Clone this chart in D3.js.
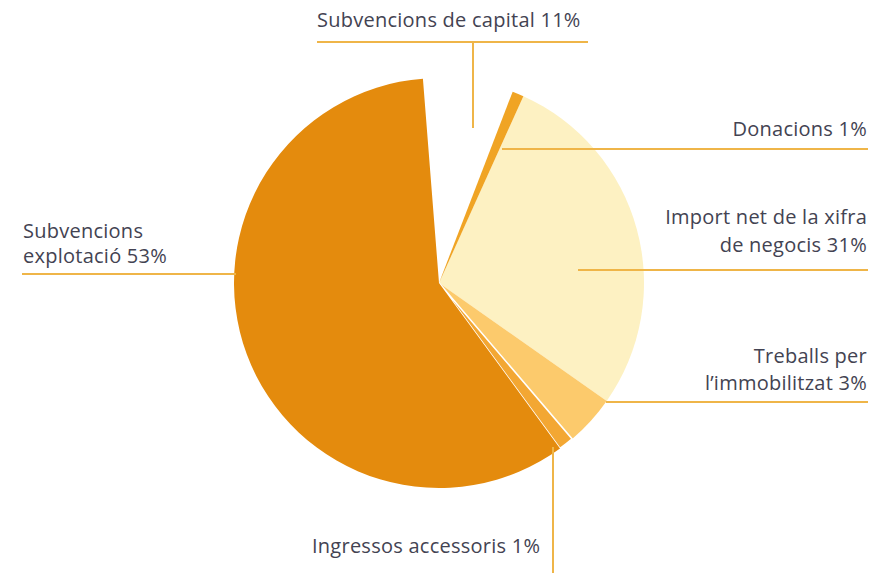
<!DOCTYPE html>
<html>
<head>
<meta charset="utf-8">
<script src="https://cdn.jsdelivr.net/npm/d3@7"></script>
<style>
  html, body { margin: 0; padding: 0; background: #ffffff; }
  svg { display: block; }
  text { font-family: "Open Sans", "Noto Sans", sans-serif; fill: #434352; letter-spacing: 0.25px; }
</style>
</head>
<body>
<svg id="chart" width="871" height="573"></svg>
<script>
// Categories in drawing order (clockwise, starting at the empty wedge)
const categories = [
  "Subvencions de capital",
  "Donacions",
  "Import net de la xifra de negocis",
  "Treballs per l\u2019immobilitzat",
  "Ingressos accessoris",
  "Subvencions explotació"
];
// Printed percentages (as labelled)
const labelPercents = [11, 1, 31, 3, 1, 53];
// Slice shares as drawn in the picture (percent of the circle)
const sliceShares = [7.1, 0.9, 28.0, 4.0, 1.2, 58.8];
// Label text lines
const labelLines = [
  ["Subvencions de capital 11%"],
  ["Donacions 1%"],
  ["Import net de la xifra", "de negocis 31%"],
  ["Treballs per", "l\u2019immobilitzat 3%"],
  ["Ingressos accessoris 1%"],
  ["Subvencions", "explotació 53%"]
];

const colors = ["#ffffff", "#f0a424", "#fdf1c2", "#fcca6c", "#f3a733", "#e48b0d"];
const lineColor = "#efb548";

const svg = d3.select("#chart");
const cx = 439, cy = 283, R = 205;

const data = categories.map((c, i) => ({ name: c, share: sliceShares[i], pct: labelPercents[i], idx: i }));

const pie = d3.pie()
  .sort(null)
  .value(d => d.share)
  .startAngle(-4.5 * Math.PI / 180)
  .endAngle(-4.5 * Math.PI / 180 + 2 * Math.PI);

const arc = d3.arc().innerRadius(0).outerRadius(R);

const g = svg.append("g").attr("transform", `translate(${cx},${cy})`);

const arcs = pie(data);

g.selectAll("path.slice")
  .data(arcs)
  .join("path")
  .attr("class", "slice")
  .attr("d", arc)
  .attr("fill", d => colors[d.data.idx])
  .attr("stroke", d => (d.data.idx === 4 ? "#ffffff" : "none"))
  .attr("stroke-width", 1.6)
  .attr("stroke-linejoin", "miter");

// keep Donacions on top
g.selectAll("path.slice").filter(d => d.data.idx === 1).raise();

// leader lines (layout)
const lines = [
  [[317, 42], [588, 42]],
  [[473, 42], [473, 128]],
  [[502, 149], [868, 149]],
  [[578, 270], [868, 270]],
  [[606, 402], [868, 402]],
  [[553, 447], [553, 573]],
  [[22, 274], [236, 274]]
];
svg.append("g").selectAll("line")
  .data(lines)
  .join("line")
  .attr("x1", d => d[0][0]).attr("y1", d => d[0][1])
  .attr("x2", d => d[1][0]).attr("y2", d => d[1][1])
  .attr("stroke", lineColor)
  .attr("stroke-width", 2);

// labels (layout)
const labelPos = [
  { x: 317, y: 27, anchor: "start", dy: 0 },
  { x: 867, y: 136, anchor: "end", dy: 0 },
  { x: 867, y: 224, anchor: "end", dy: 28 },
  { x: 867, y: 363, anchor: "end", dy: 27 },
  { x: 312, y: 553, anchor: "start", dy: 0 },
  { x: 23, y: 238, anchor: "start", dy: 25 }
];

const lab = svg.append("g");
labelLines.forEach((ls, i) => {
  const p = labelPos[i];
  const t = lab.append("text")
    .attr("text-anchor", p.anchor)
    .attr("font-size", 20);
  ls.forEach((s, j) => {
    t.append("tspan").attr("x", p.x).attr("y", p.y + j * p.dy).text(s);
  });
});
</script>
</body>
</html>
